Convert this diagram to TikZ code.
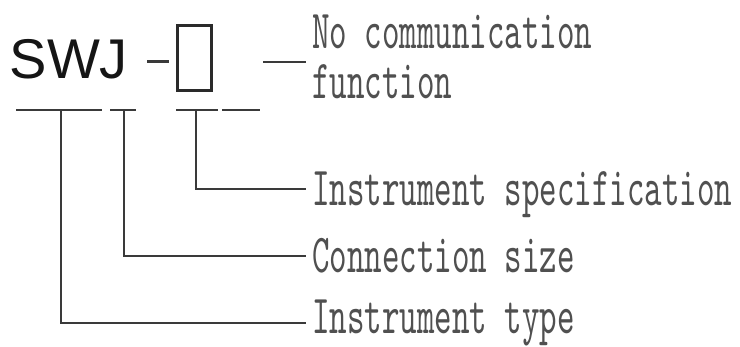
\documentclass[tikz,border=0pt]{standalone}
\usepackage{fontspec}
\setsansfont{Liberation Sans}
\newfontfamily\lblfont{lmmono10-regular}[Extension=.otf, FakeStretch=0.606]
\definecolor{linec}{HTML}{3A3A3A}
\definecolor{textc}{HTML}{505050}
\definecolor{boxc}{HTML}{2A2A2A}
\definecolor{swjc}{HTML}{151515}
\begin{document}
\begin{tikzpicture}[x=1pt,y=-1pt,
  ln/.style={draw=linec, line width=2pt},
  seg/.style={draw=linec, line width=2.5pt},
  lbl/.style={font=\lblfont\fontsize{55}{50}\selectfont, text=textc, inner xsep=6pt, inner ysep=0pt, anchor=base west, text height=33pt, text depth=0pt},
  lbltwo/.style={font=\lblfont\fontsize{55}{50}\selectfont, text=textc, inner xsep=6pt, inner ysep=0pt, anchor=base west, align=left}]
\useasboundingbox (0,0) rectangle (740,346);
% code
\node[font=\sffamily\fontsize{56}{60}\selectfont, text=swjc, inner sep=0pt, anchor=base west] (swj) at (9.5,78) {SWJ};
\node[draw=boxc, line width=3.5pt, minimum width=34pt, minimum height=65pt, inner sep=0pt] (box) at (194.5,58) {};
% labels
\node[lbltwo] (nocomm) at (306,98) {No communication\\function};
\node[lbl] (spec) at (306,205) {Instrument specification};
\node[lbl] (conn) at (306,272) {Connection size};
\node[lbl, text height=20pt] (type) at (306,333) {Instrument type};
% dashes
\coordinate (d1a) at (147,61.5);
\coordinate (d1b) at (169,61.5);
\coordinate (d2a) at (263,62);
\draw[seg] (d1a) -- (d1b);
\draw[seg] (d2a) -- (d2a -| nocomm.west);
% underlines
\coordinate (u1a) at (16,110);  \coordinate (u1b) at (102,110);
\coordinate (u2a) at (110,110); \coordinate (u2b) at (136,110);
\coordinate (u3a) at (176,110); \coordinate (u3b) at (218,110);
\coordinate (u4a) at (222,110); \coordinate (u4b) at (260,110);
\draw[seg] (u1a) -- (u1b);
\draw[seg] (u2a) -- (u2b);
\draw[seg] (u3a) -- (u3b);
\draw[seg] (u4a) -- (u4b);
% leaders
\coordinate (t1) at (61,110);
\coordinate (t2) at (124,110);
\coordinate (t3) at (196,110);
\draw[ln] (t1) |- (type.west);
\draw[ln] (t2) |- (conn.west);
\draw[ln] (t3) |- (spec.west);
\end{tikzpicture}
\end{document}
